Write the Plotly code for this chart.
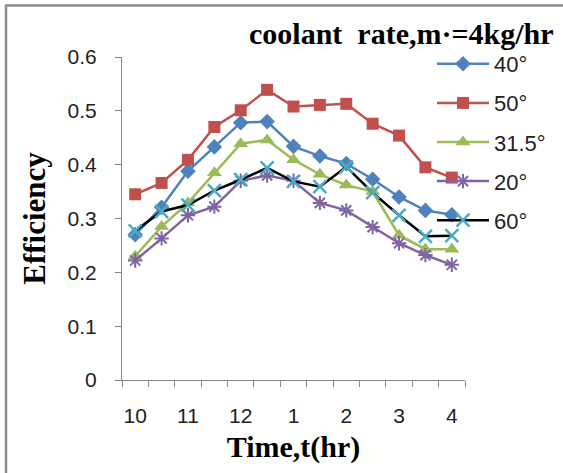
import plotly.graph_objects as go

# Half-hourly readings from 10 am to 4 pm
time_labels = ["10", "", "11", "", "12", "", "1", "", "2", "", "3", "", "4"]

eff_40 = [0.270, 0.321, 0.388, 0.433, 0.478, 0.480, 0.434, 0.416, 0.402, 0.373, 0.340, 0.315, 0.307]
eff_50 = [0.345, 0.366, 0.409, 0.470, 0.501, 0.539, 0.508, 0.511, 0.513, 0.476, 0.454, 0.395, 0.376]
eff_315 = [0.230, 0.285, 0.329, 0.385, 0.439, 0.446, 0.409, 0.382, 0.362, 0.350, 0.269, 0.243, 0.243]
eff_20 = [0.222, 0.263, 0.306, 0.322, 0.370, 0.380, 0.370, 0.329, 0.315, 0.284, 0.254, 0.232, 0.214]
eff_60 = [0.277, 0.313, 0.325, 0.352, 0.372, 0.394, 0.369, 0.359, 0.396, 0.348, 0.306, 0.267, 0.268]

series_names = ["40°", "50°", "31.5°", "20°", "60°"]
y_ticks = [0, 0.1, 0.2, 0.3, 0.4, 0.5, 0.6]

W, H = 563, 473
ML, MR, MT, MB = 122, 98, 57, 93
PW, PH = W - ML - MR, H - MT - MB


def px_x(p):
    return (p - ML) / PW


def px_y(p):
    return (H - MB - p) / PH


x_idx = list(range(len(time_labels)))
axis_grey = "#868686"

styles = [
    dict(line=dict(color="#4f81bd", width=2.5),
         marker=dict(symbol="diamond", size=12, color="#4f81bd")),
    dict(line=dict(color="#c0504d", width=2.5),
         marker=dict(symbol="square", size=12, color="#c0504d")),
    dict(line=dict(color="#9bbb59", width=2.5),
         marker=dict(symbol="triangle-up", size=13, color="#9bbb59")),
    dict(line=dict(color="#8064a2", width=2.5),
         marker=dict(symbol="asterisk-open", size=12, color="#8064a2",
                     line=dict(color="#8064a2", width=2))),
    dict(line=dict(color="#000000", width=2.5),
         marker=dict(symbol="x-thin-open", size=13, color="#4bacc6",
                     line=dict(color="#4bacc6", width=2.5))),
]

fig = go.Figure()
for i, (name, vals, st) in enumerate(zip(series_names,
                                         [eff_40, eff_50, eff_315, eff_20, eff_60],
                                         styles)):
    fig.add_trace(go.Scatter(x=x_idx, y=vals, name=name, mode="lines+markers",
                             legendgroup=f"g{i}", **st))

fig.update_layout(
    width=W, height=H,
    margin=dict(l=ML, r=MR, t=MT, b=MB, autoexpand=False),
    paper_bgcolor="white", plot_bgcolor="white",
    font=dict(family="Liberation Sans, Arial, sans-serif", size=21, color="#222222"),
    showlegend=True,
    legend=dict(x=px_x(432), y=px_y(43), xanchor="left", yanchor="top",
                bgcolor="rgba(0,0,0,0)", tracegroupgap=7.5, itemwidth=52,
                font=dict(size=22, color="#222222")),
    xaxis=dict(
        range=[-0.5, len(time_labels) - 0.5],
        tickmode="array", tickvals=[i for i, t in enumerate(time_labels) if t],
        ticktext=[t for t in time_labels if t],
        ticks="", showgrid=False, zeroline=False,
        showline=True, linecolor=axis_grey, linewidth=1,
        ticklabelstandoff=17,
        minor=dict(ticks="outside", tick0=0.5, dtick=1, ticklen=6,
                   tickcolor=axis_grey, showgrid=False),
        title=dict(text="<b>Time,t(hr)</b>", standoff=9,
                   font=dict(family="Liberation Serif, Times New Roman, serif",
                             size=30, color="#000000")),
    ),
    yaxis=dict(
        range=[0, 0.6], tickmode="array", tickvals=y_ticks,
        ticktext=[f"{v:g}" for v in y_ticks],
        ticks="outside", ticklen=6, tickcolor=axis_grey,
        showgrid=False, zeroline=False,
        showline=True, linecolor=axis_grey, linewidth=1,
        ticklabelstandoff=14,
        title=dict(text="<b>Efficiency</b>", standoff=12,
                   font=dict(family="Liberation Serif, Times New Roman, serif",
                             size=31, color="#000000")),
    ),
)

# chart title
fig.add_annotation(text="<b>coolant  rate,m·=4kg/hr</b>", xref="paper", yref="paper",
                   x=px_x(401), y=px_y(33), xanchor="center", yanchor="middle",
                   showarrow=False,
                   font=dict(family="Liberation Serif, Times New Roman, serif",
                             size=30, color="#000000"))

# outer frame edges along the top and left
frame = dict(color="#8c8c8c", width=2.5)
fig.add_shape(type="line", xref="paper", yref="paper",
              x0=px_x(5), x1=px_x(W + 5), y0=px_y(5.5), y1=px_y(5.5), line=frame)
fig.add_shape(type="line", xref="paper", yref="paper",
              x0=px_x(6), x1=px_x(6), y0=px_y(5.5), y1=px_y(H + 5), line=frame)

fig.write_html("out.html")
